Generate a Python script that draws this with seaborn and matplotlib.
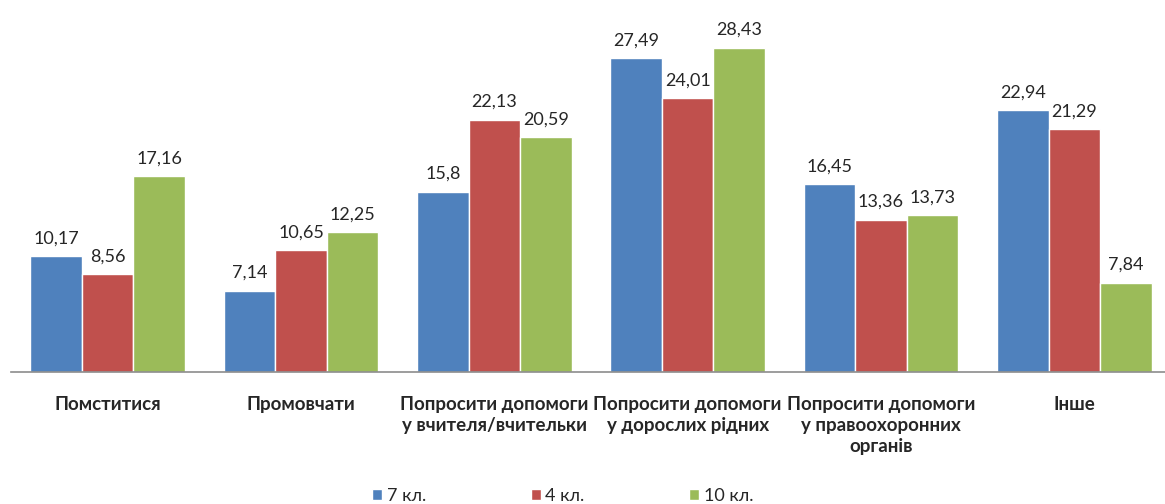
import pandas as pd
import matplotlib.pyplot as plt
import seaborn as sns

# Chart data
CATEGORIES = [
    'Помститися',
    'Промовчати',
    'Попросити допомоги\nу вчителя/вчительки',
    'Попросити допомоги\nу дорослих рідних',
    'Попросити допомоги\nу правоохоронних\nорганів',
    'Інше',
]
SERIES = ['7 кл.', '4 кл.', '10 кл.']
VALUES_7 = [10.17, 7.14, 15.8, 27.49, 16.45, 22.94]
VALUES_4 = [8.56, 10.65, 22.13, 24.01, 13.36, 21.29]
VALUES_10 = [17.16, 12.25, 20.59, 28.43, 13.73, 7.84]

COLORS = {
    '7 кл.': '#4F81BD',
    '4 кл.': '#C0504D',
    '10 кл.': '#9BBB59',
}
TEXT = '#262626'
AXIS = '#8C8C8C'
FONTS = ['Lato', 'DejaVu Sans']


def build_frame():
    rows = []
    for name, vals in zip(SERIES, [VALUES_7, VALUES_4, VALUES_10]):
        for cat, v in zip(CATEGORIES, vals):
            rows.append({'category': cat, 'series': name, 'value': v})
    return pd.DataFrame(rows)


sns.set_theme(style='white')
plt.rcParams['font.family'] = FONTS

df = build_frame()

fig = plt.figure(figsize=(11.65, 5.04), dpi=100)
ax = fig.add_axes([0.0094, 0.262, 0.9906, 0.679])

sns.barplot(data=df, x='category', y='value', hue='series', order=CATEGORIES,
            hue_order=SERIES, palette=COLORS, saturation=1, width=0.8,
            ax=ax, legend=True)

ax.set_xlim(-0.5, 5.469)
ax.set_ylim(0, 30)

# value labels with comma as decimal mark
for cont in ax.containers:
    labels = [f"{b.get_height():g}".replace('.', ',') for b in cont]
    ax.bar_label(cont, labels=labels, padding=7, fontsize=13, color=TEXT,
                 family=FONTS)

for s in ['left', 'right', 'top']:
    ax.spines[s].set_visible(False)
ax.spines['bottom'].set_color(AXIS)
ax.spines['bottom'].set_linewidth(1.2)

ax.set_yticks([])
ax.set_xlabel('')
ax.set_ylabel('')
ax.tick_params(axis='x', length=0, pad=17)
for t in ax.get_xticklabels():
    t.set_fontsize(13.5)
    t.set_fontweight('bold')
    t.set_color(TEXT)
    t.set_linespacing(1.3)

handles, labels = ax.get_legend_handles_labels()
ax.get_legend().remove()
leg = fig.legend(handles, labels, loc='center', bbox_to_anchor=(0.483, 0.016),
                 ncol=3, frameon=False, handlelength=0.55, handleheight=0.55,
                 handletextpad=0.25, columnspacing=5.8, fontsize=13)
for txt in leg.get_texts():
    txt.set_color(TEXT)

fig.savefig('out.png', dpi=100)
